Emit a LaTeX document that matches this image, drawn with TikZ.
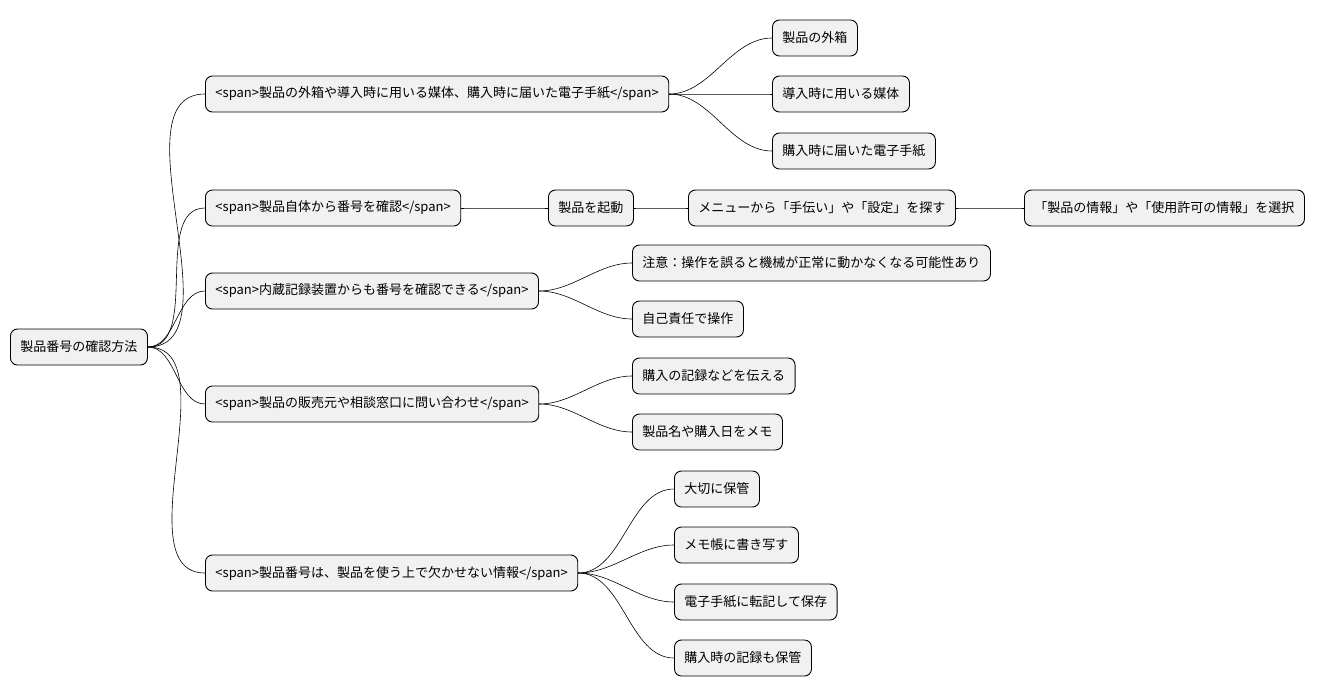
\documentclass[tikz,border=0pt]{standalone}
\usepackage{fontspec}
\setmainfont{Noto Sans CJK JP}
\usetikzlibrary{positioning}
\definecolor{boxfill}{HTML}{F1F1F1}
\tikzset{
	topic/.style={draw, line width=0.9pt, fill=boxfill, rounded corners=7pt,
			anchor=west, minimum height=36pt, inner xsep=10pt,
			font=\fontsize{13}{15}\selectfont},
	branch/.style={draw, line width=0.6pt, out=0, in=180, looseness=0.9}
}
\begin{document}
\begin{tikzpicture}[x=1pt, y=-1pt]
	\useasboundingbox (0,0) rectangle (1335,696);

	% Root
	\node[topic] (root) at (10,347) {製品番号の確認方法};

	% First level
	\node[topic] (box) at (205,94) {<span>製品の外箱や導入時に用いる媒体、購入時に届いた電子手紙</span>};
	\node[topic] (self) at (205,208) {<span>製品自体から番号を確認</span>};
	\node[topic] (disk) at (205,291) {<span>内蔵記録装置からも番号を確認できる</span>};
	\node[topic] (shop) at (205,404) {<span>製品の販売元や相談窓口に問い合わせ</span>};
	\node[topic] (keep) at (205,573) {<span>製品番号は、製品を使う上で欠かせない情報</span>};

	% Children of box
	\node[topic] (box1) at (772,38) {製品の外箱};
	\node[topic] (box2) at (772,94) {導入時に用いる媒体};
	\node[topic] (box3) at (772,151) {購入時に届いた電子手紙};

	% Chain of self
	\node[topic] (start) at (548,208) {製品を起動};
	\node[topic] (menu) at (688,208) {メニューから「手伝い」や「設定」を探す};
	\node[topic] (info) at (1024,208) {「製品の情報」や「使用許可の情報」を選択};

	% Children of disk
	\node[topic] (disk1) at (632,263) {注意：操作を誤ると機械が正常に動かなくなる可能性あり};
	\node[topic] (disk2) at (632,319) {自己責任で操作};

	% Children of shop
	\node[topic] (shop1) at (632,376) {購入の記録などを伝える};
	\node[topic] (shop2) at (632,432) {製品名や購入日をメモ};

	% Children of keep
	\node[topic] (keep1) at (674,489) {大切に保管};
	\node[topic] (keep2) at (674,545) {メモ帳に書き写す};
	\node[topic] (keep3) at (674,602) {電子手紙に転記して保存};
	\node[topic] (keep4) at (674,658) {購入時の記録も保管};

	% Connectors
	\foreach \p/\c in {root/box, root/self, root/disk, root/shop, root/keep,
			box/box1, box/box2, box/box3, self/start, start/menu, menu/info,
			disk/disk1, disk/disk2, shop/shop1, shop/shop2,
			keep/keep1, keep/keep2, keep/keep3, keep/keep4}
		\draw[branch] (\p.east) to (\c.west);

\end{tikzpicture}
\end{document}
